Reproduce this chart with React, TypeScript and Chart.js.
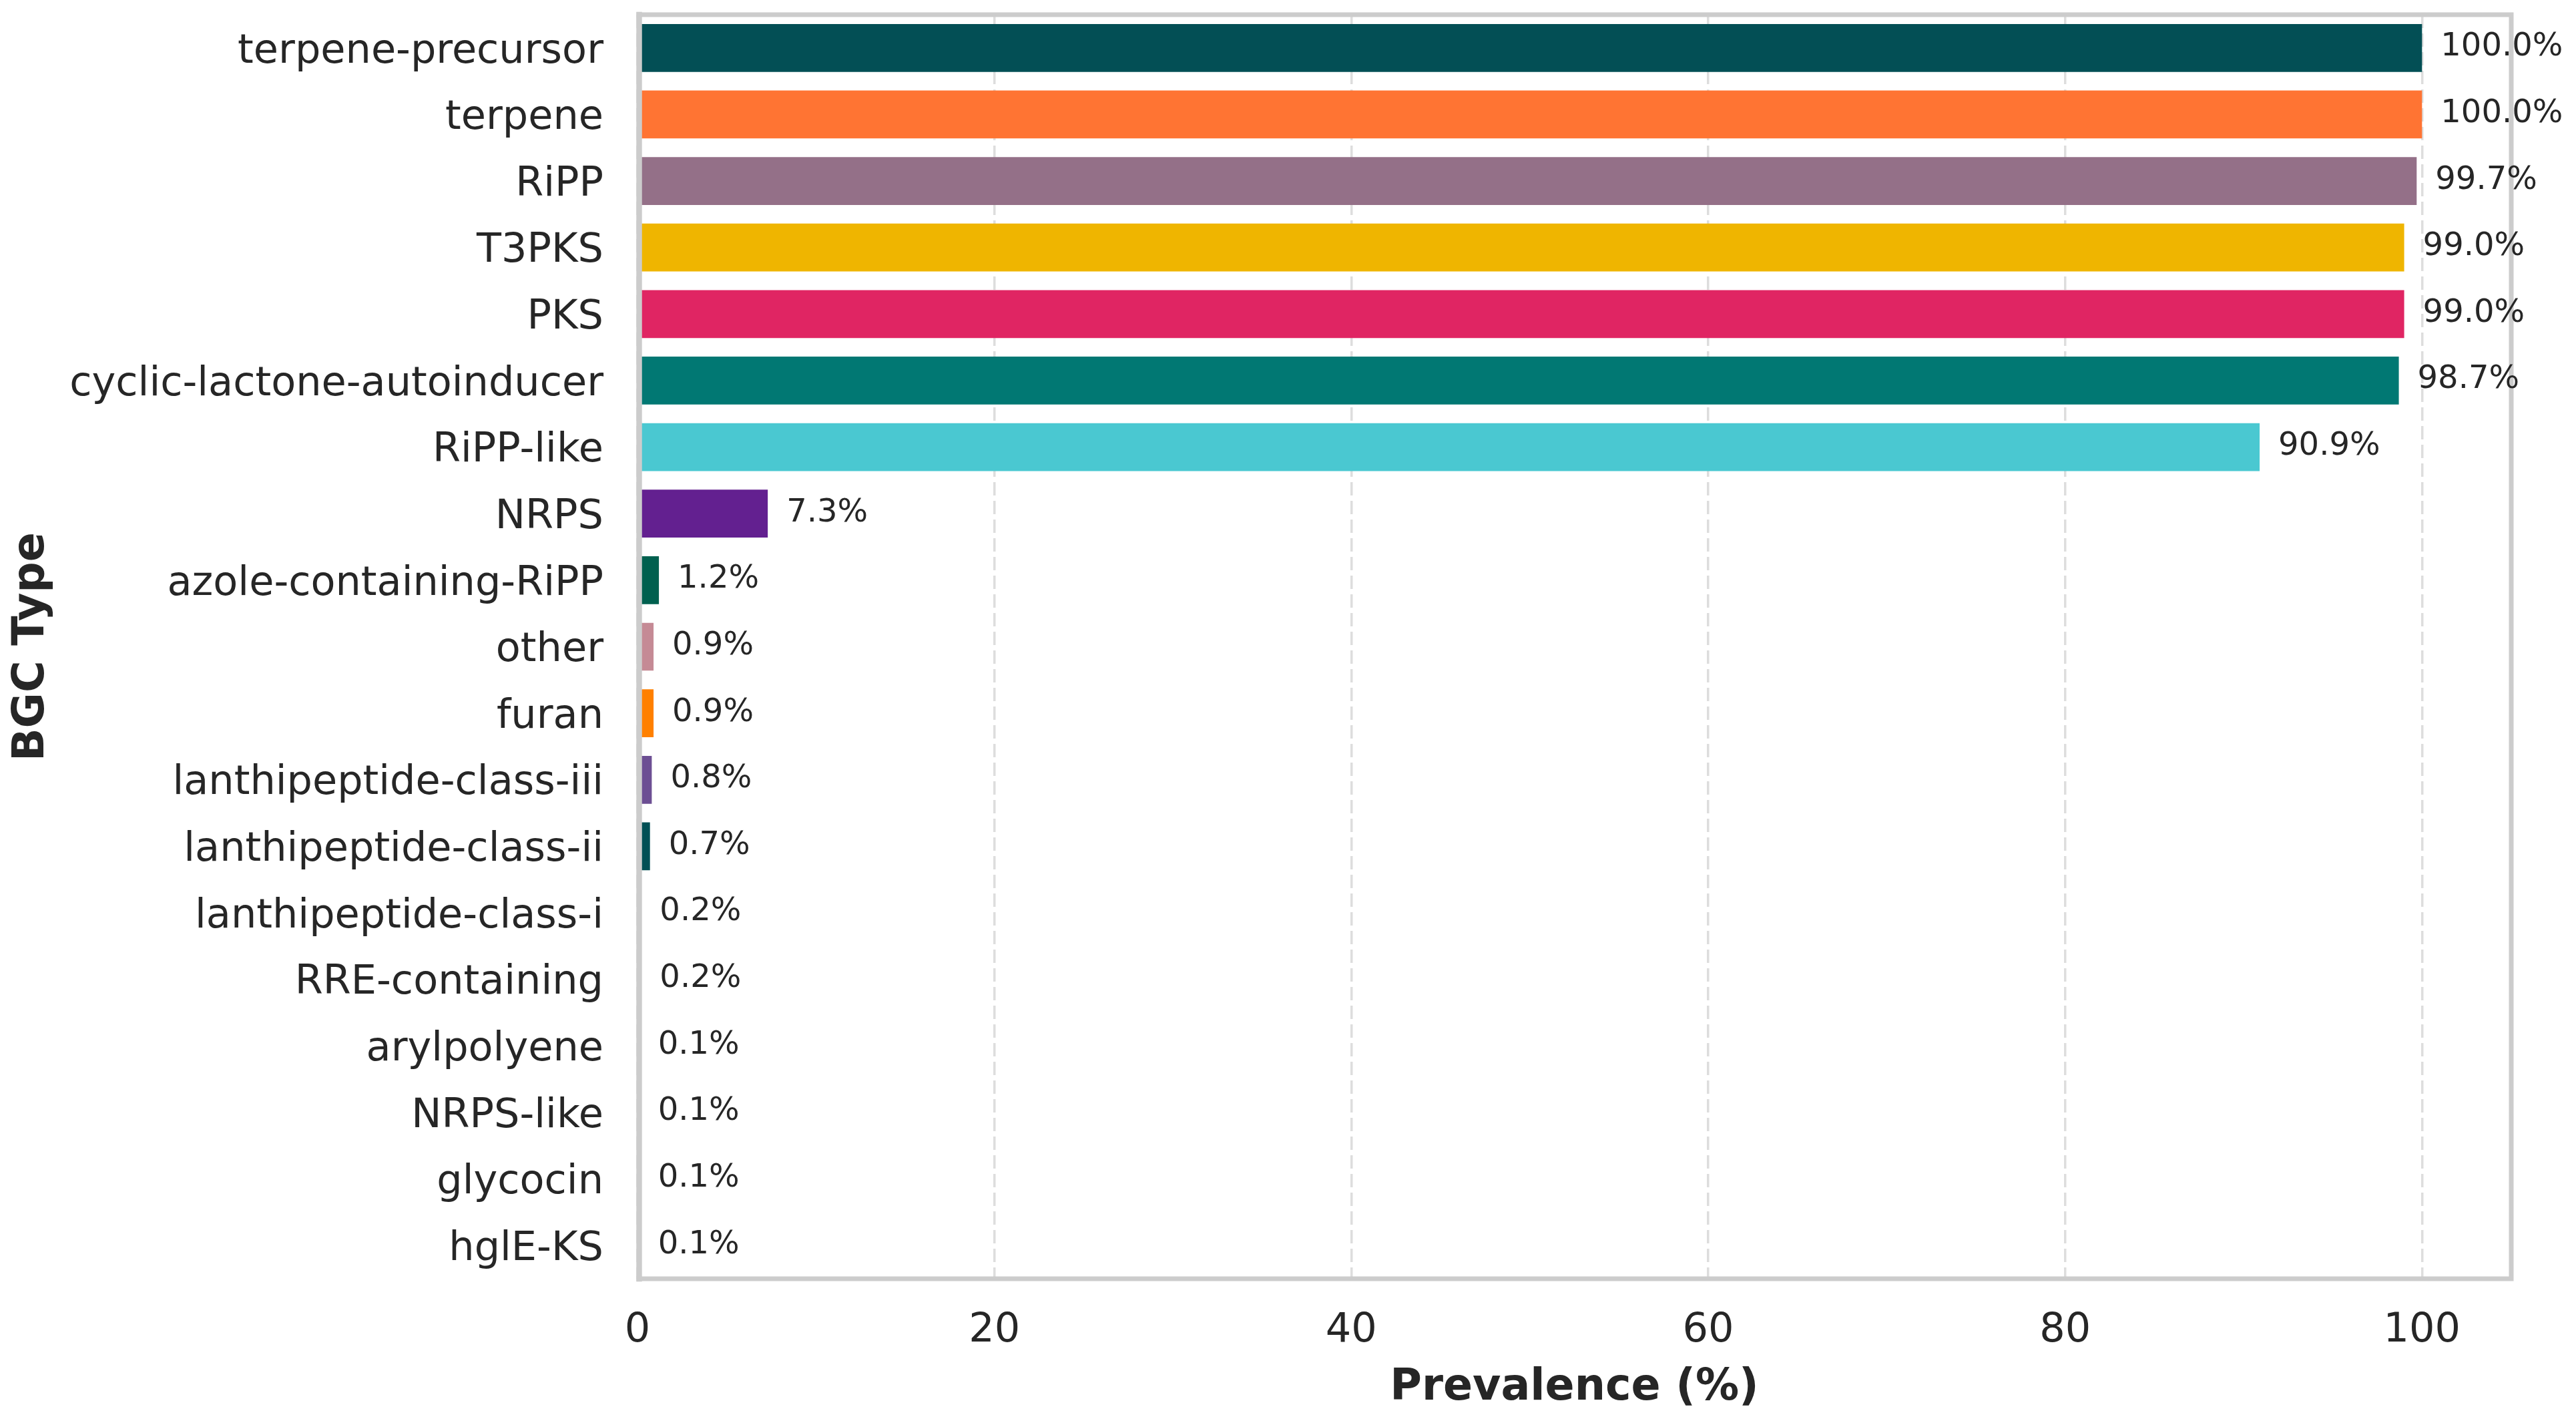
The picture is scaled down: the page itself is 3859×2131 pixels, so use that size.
import React, { useEffect, useRef } from "react";
import { Chart, registerables } from "chart.js";

Chart.register(...registerables);

const categories: string[] = [
  "terpene-precursor",
  "terpene",
  "RiPP",
  "T3PKS",
  "PKS",
  "cyclic-lactone-autoinducer",
  "RiPP-like",
  "NRPS",
  "azole-containing-RiPP",
  "other",
  "furan",
  "lanthipeptide-class-iii",
  "lanthipeptide-class-ii",
  "lanthipeptide-class-i",
  "RRE-containing",
  "arylpolyene",
  "NRPS-like",
  "glycocin",
  "hglE-KS",
];

const prevalence: number[] = [
  100.0, 100.0, 99.7, 99.0, 99.0, 98.7, 90.9, 7.3, 1.2, 0.9, 0.9, 0.8, 0.7, 0.2, 0.2, 0.1, 0.1, 0.1, 0.1,
];

const barColors: string[] = [
  "#034F55",
  "#FF7433",
  "#947088",
  "#EFB500",
  "#E02563",
  "#017873",
  "#4AC8D1",
  "#632090",
  "#00604F",
  "#C58A95",
  "#FF8000",
  "#6C4E93",
  "#015055",
  "#FF7433",
  "#947088",
  "#EFB500",
  "#E02563",
  "#017873",
  "#4AC8D1",
];

const xTicks: number[] = [0, 20, 40, 60, 80, 100];
const xMin = 0;
const xMax = 105;

const TEXT = "#262626";
const FONT = "'DejaVu Sans', sans-serif";

const frameAndLabels = {
  id: "frameAndLabels",
  afterDatasetsDraw(chart: any) {
    const { ctx, chartArea } = chart;
    const meta = chart.getDatasetMeta(0);
    const ds = chart.data.datasets[0];
    const { left, right, top, bottom } = chartArea;
    ctx.save();
    // spines (drawn above bars like matplotlib)
    ctx.strokeStyle = "#cccccc";
    ctx.lineCap = "square";
    ctx.lineWidth = 7;
    ctx.beginPath();
    ctx.moveTo(left + 2, top);
    ctx.lineTo(right, top);
    ctx.lineTo(right, bottom);
    ctx.lineTo(left + 2, bottom);
    ctx.stroke();
    ctx.lineWidth = 8.5;
    ctx.beginPath();
    ctx.moveTo(left + 2.5, top);
    ctx.lineTo(left + 2.5, bottom);
    ctx.stroke();
    // value labels
    ctx.fillStyle = TEXT;
    ctx.font = `48px ${FONT}`;
    ctx.textAlign = "left";
    ctx.textBaseline = "middle";
    meta.data.forEach((bar: any, i: number) => {
      const v = ds.data[i] as number;
      ctx.fillText(`${v.toFixed(1)}%`, bar.x + 28, bar.y - 1);
    });
    ctx.restore();
  },
};

export default function App() {
  const canvasRef = useRef<HTMLCanvasElement | null>(null);

  useEffect(() => {
    if (!canvasRef.current) return;
    const chart = new Chart(canvasRef.current, {
      type: "bar",
      data: {
        labels: categories,
        datasets: [
          {
            data: prevalence,
            backgroundColor: barColors,
            borderWidth: 0,
            barPercentage: 0.72,
            categoryPercentage: 1,
          },
        ],
      },
      options: {
        indexAxis: "y",
        animation: false,
        responsive: true,
        maintainAspectRatio: false,
        devicePixelRatio: 1,
        layout: { padding: { top: 22, right: 97, bottom: 0, left: 0 } },
        plugins: {
          legend: { display: false },
          tooltip: { enabled: false },
        },
        scales: {
          x: {
            type: "linear",
            min: xMin,
            max: xMax,
            afterBuildTicks: (scale: any) => {
              scale.ticks = xTicks.map((v) => ({ value: v }));
            },
            afterFit: (scale: any) => {
              scale.height = 216;
              scale.paddingLeft = 0;
              scale.paddingRight = 0;
            },
            ticks: {
              color: TEXT,
              font: { family: FONT, size: 60.5 },
              padding: 42,
              includeBounds: false,
            },
            grid: {
              display: true,
              color: "#dddddd",
              lineWidth: 3.5,
              drawTicks: false,
            },
            border: { display: false, dash: [20, 8] },
            title: {
              display: true,
              text: "Prevalence (%)",
              color: TEXT,
              font: { family: FONT, size: 65, weight: "bold" },
              padding: { top: 0, bottom: 13 },
            },
          },
          y: {
            type: "category",
            afterFit: (scale: any) => {
              scale.width = 955;
              scale.paddingTop = 0;
              scale.paddingBottom = 0;
            },
            ticks: {
              color: TEXT,
              font: { family: FONT, size: 60.5 },
              padding: 51,
              labelOffset: 6,
              autoSkip: false,
            },
            grid: { display: false, drawTicks: false },
            border: { display: false },
            title: {
              display: true,
              text: "BGC Type",
              color: TEXT,
              font: { family: FONT, size: 65, weight: "bold" },
              padding: { top: 9, bottom: 0 },
            },
          },
        },
      } as any,
      plugins: [frameAndLabels],
    });
    return () => chart.destroy();
  }, []);

  return (
    <div
      style={{
        position: "fixed",
        left: 0,
        top: 0,
        width: "3859px",
        height: "2131px",
        background: "#ffffff",
      }}
    >
      <canvas ref={canvasRef} />
    </div>
  );
}
